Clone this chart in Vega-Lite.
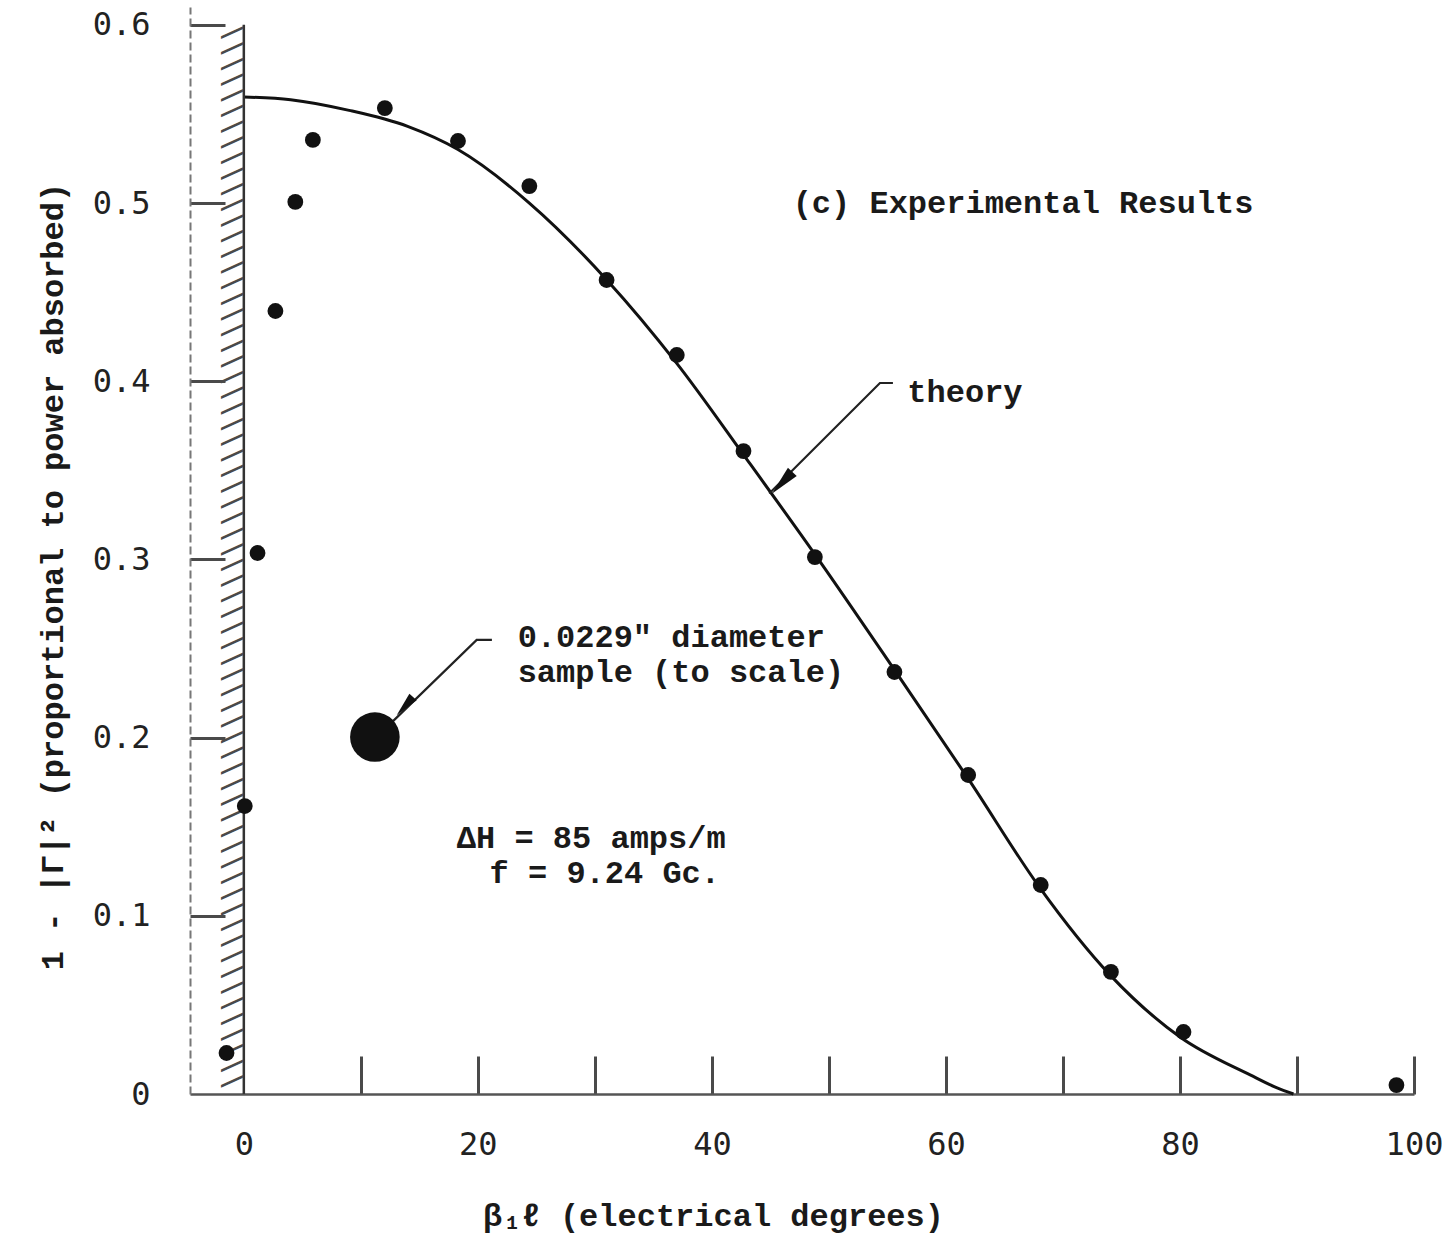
{
  "$schema": "https://vega.github.io/schema/vega-lite/v6.json",
  "width": 1224,
  "height": 1087,
  "autosize": {"type": "none"},
  "padding": {"left": 190, "top": 7, "right": 28, "bottom": 157},
  "background": "#ffffff",
  "config": {"view": {"stroke": null}, "font": "Liberation Mono"},
  "data": {"values": [{}]},
  "datasets": {
    "measured": [
      {"deg": -1.48, "absorbed": 0.023},
      {"deg": 0.08, "absorbed": 0.1616},
      {"deg": 1.17, "absorbed": 0.3036},
      {"deg": 2.7, "absorbed": 0.4394},
      {"deg": 4.4, "absorbed": 0.5006},
      {"deg": 5.9, "absorbed": 0.5354},
      {"deg": 12.05, "absorbed": 0.5533},
      {"deg": 18.3, "absorbed": 0.5348},
      {"deg": 24.4, "absorbed": 0.5095},
      {"deg": 31.0, "absorbed": 0.4568},
      {"deg": 37.0, "absorbed": 0.4147},
      {"deg": 42.7, "absorbed": 0.3608},
      {"deg": 48.8, "absorbed": 0.3013},
      {"deg": 55.6, "absorbed": 0.2368},
      {"deg": 61.9, "absorbed": 0.179},
      {"deg": 68.1, "absorbed": 0.1173},
      {"deg": 74.1, "absorbed": 0.0685},
      {"deg": 80.3, "absorbed": 0.0348},
      {"deg": 98.5, "absorbed": 0.005}
    ],
    "theory": [
      {"deg": 0, "absorbed": 0.5595},
      {"deg": 4, "absorbed": 0.558},
      {"deg": 9, "absorbed": 0.552},
      {"deg": 14, "absorbed": 0.543},
      {"deg": 18.3, "absorbed": 0.53},
      {"deg": 24.4, "absorbed": 0.5},
      {"deg": 31, "absorbed": 0.457},
      {"deg": 37, "absorbed": 0.41},
      {"deg": 43, "absorbed": 0.356},
      {"deg": 49, "absorbed": 0.301},
      {"deg": 55.6, "absorbed": 0.238},
      {"deg": 62, "absorbed": 0.176},
      {"deg": 68, "absorbed": 0.116},
      {"deg": 74, "absorbed": 0.067},
      {"deg": 80, "absorbed": 0.032},
      {"deg": 86, "absorbed": 0.0107},
      {"deg": 88.3, "absorbed": 0.0034},
      {"deg": 89.7, "absorbed": 0.0}
    ],
    "sample": [{"deg": 11.2, "absorbed": 0.2003}],
    "leaders": [
      {"id": "theory", "deg": 55.47, "absorbed": 0.399},
      {"id": "theory", "deg": 54.36, "absorbed": 0.399},
      {"id": "theory", "deg": 44.9, "absorbed": 0.337},
      {"id": "sample", "deg": 21.2, "absorbed": 0.2548},
      {"id": "sample", "deg": 19.9, "absorbed": 0.2548},
      {"id": "sample", "deg": 12.4, "absorbed": 0.207}
    ],
    "notes": [
      {"deg": 46.9, "absorbed": 0.4944, "note": "(c) Experimental Results"},
      {"deg": 56.7, "absorbed": 0.3883, "note": "theory"},
      {"deg": 23.4, "absorbed": 0.2508, "note": "0.0229\" diameter"},
      {"deg": 23.4, "absorbed": 0.2312, "note": "sample (to scale)"},
      {"deg": 18.2, "absorbed": 0.138, "note": "ΔH = 85 amps/m"},
      {"deg": 21.0, "absorbed": 0.1184, "note": "f = 9.24 Gc."}
    ]
  },
  "layer": [
    {
      "data": {"name": "theory"},
      "mark": {"type": "line", "color": "#111111", "strokeWidth": 3, "interpolate": "monotone"},
      "encoding": {
        "x": {
          "field": "deg", "type": "quantitative",
          "scale": {"domain": [-4.6, 100], "nice": false, "zero": false},
          "axis": {
            "values": [0, 10, 20, 30, 40, 50, 60, 70, 80, 90, 100],
            "labelExpr": "datum.value % 20 === 0 ? datum.label : ''",
            "tickSize": -38, "tickWidth": 3, "tickColor": "#4a4a4a",
            "tickOpacity": {"condition": {"test": "datum.value === 0", "value": 0}, "value": 1},
            "labelPadding": 88, "labelBaseline": "middle", "labelFlush": false, "labelOverlap": false,
            "labelFont": "DejaVu Sans Mono", "labelFontSize": 32, "labelColor": "#222222",
            "domainColor": "#555555", "domainWidth": 2.5, "grid": false,
            "title": "β₁ℓ (electrical degrees)",
            "titleFont": "Liberation Mono", "titleFontSize": 32, "titleFontWeight": "bold", "titleColor": "#1a1a1a",
            "titleX": 523, "titleY": 131, "titleAlign": "center", "titleBaseline": "alphabetic"
          }
        },
        "y": {
          "field": "absorbed", "type": "quantitative",
          "scale": {"domain": [0, 0.61], "nice": false, "zero": false},
          "axis": {
            "values": [0, 0.1, 0.2, 0.3, 0.4, 0.5, 0.6],
            "labelExpr": "datum.value === 0 ? '0' : format(datum.value, '.1f')",
            "tickSize": -35, "tickWidth": 3, "tickColor": "#4a4a4a",
            "tickOpacity": {"condition": {"test": "datum.value === 0", "value": 0}, "value": 1},
            "labelPadding": 75, "labelAlign": "right", "labelBaseline": "middle", "labelFlush": false, "labelOverlap": false,
            "labelFont": "DejaVu Sans Mono", "labelFontSize": 32, "labelColor": "#222222",
            "domainColor": "#777777", "domainWidth": 2, "domainDash": [8, 4], "grid": false,
            "title": "1 - |Γ|² (proportional to power absorbed)",
            "titleFont": "Liberation Mono", "titleFontSize": 32, "titleFontWeight": "bold", "titleColor": "#1a1a1a",
            "titleX": -128, "titleY": 569, "titleAngle": -90, "titleAlign": "center", "titleBaseline": "alphabetic"
          }
        }
      }
    },
    {
      "mark": {"type": "rule", "color": "#333333", "strokeWidth": 2.5},
      "encoding": {"x": {"datum": 0}, "y": {"datum": 0}, "y2": {"datum": 0.6}}
    },
    {
      "mark": {
        "type": "text", "angle": 90, "align": "left", "baseline": "top",
        "font": "DejaVu Sans Mono", "fontSize": 26, "fontWeight": "bold", "color": "#4a4a4a",
        "text": "\u005c\u005c\u005c\u005c\u005c\u005c\u005c\u005c\u005c\u005c\u005c\u005c\u005c\u005c\u005c\u005c\u005c\u005c\u005c\u005c\u005c\u005c\u005c\u005c\u005c\u005c\u005c\u005c\u005c\u005c\u005c\u005c\u005c\u005c\u005c\u005c\u005c\u005c\u005c\u005c\u005c\u005c\u005c\u005c\u005c\u005c\u005c\u005c\u005c\u005c\u005c\u005c\u005c\u005c\u005c\u005c\u005c\u005c\u005c\u005c\u005c\u005c\u005c\u005c\u005c\u005c\u005c\u005c"
      },
      "encoding": {"x": {"datum": 0}, "y": {"datum": 0.6}}
    },
    {
      "data": {"name": "leaders"},
      "mark": {"type": "line", "color": "#222222", "strokeWidth": 2.2},
      "encoding": {
        "x": {"field": "deg", "type": "quantitative"},
        "y": {"field": "absorbed", "type": "quantitative"},
        "detail": {"field": "id"}
      }
    },
    {
      "mark": {"type": "point", "shape": "M0,-1L0.4,1L-0.4,1Z", "filled": true, "color": "#111111", "opacity": 1, "size": 900, "angle": 223},
      "encoding": {"x": {"datum": 46.0}, "y": {"datum": 0.343}}
    },
    {
      "mark": {"type": "point", "shape": "M0,-1L0.4,1L-0.4,1Z", "filled": true, "color": "#111111", "opacity": 1, "size": 600, "angle": 222},
      "encoding": {"x": {"datum": 13.76}, "y": {"datum": 0.2177}}
    },
    {
      "data": {"name": "measured"},
      "mark": {"type": "point", "filled": true, "color": "#111111", "opacity": 1, "size": 250},
      "encoding": {
        "x": {"field": "deg", "type": "quantitative"},
        "y": {"field": "absorbed", "type": "quantitative"}
      }
    },
    {
      "data": {"name": "sample"},
      "mark": {"type": "point", "filled": true, "color": "#111111", "opacity": 1, "size": 2460},
      "encoding": {
        "x": {"field": "deg", "type": "quantitative"},
        "y": {"field": "absorbed", "type": "quantitative"}
      }
    },
    {
      "data": {"name": "notes"},
      "mark": {"type": "text", "align": "left", "baseline": "alphabetic", "font": "Liberation Mono", "fontSize": 32, "fontWeight": "bold", "color": "#1a1a1a"},
      "encoding": {
        "x": {"field": "deg", "type": "quantitative"},
        "y": {"field": "absorbed", "type": "quantitative"},
        "text": {"field": "note"}
      }
    }
  ]
}
